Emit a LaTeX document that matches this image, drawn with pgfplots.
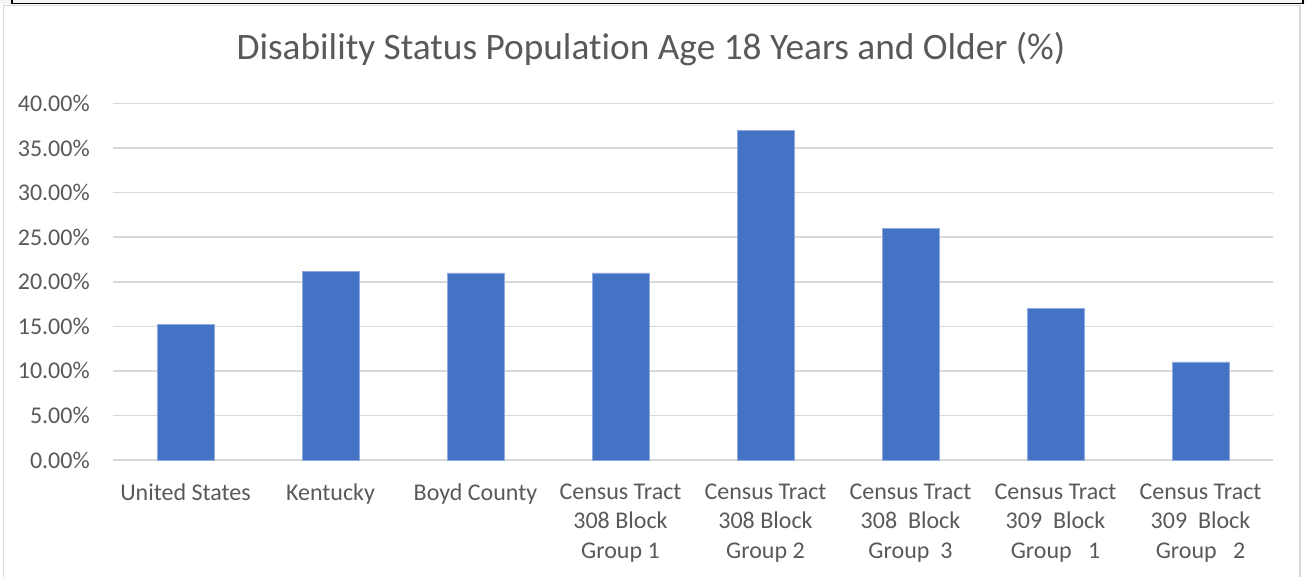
\documentclass[border=0pt]{standalone}
\usepackage{pgfplots}
\pgfplotsset{compat=1.18}
\usepackage{fontspec}
\setmainfont{Carlito}[Ligatures=NoCommon]
\definecolor{barblue}{HTML}{4472C4}
\definecolor{baredge}{HTML}{8FAADC}
\definecolor{txtgray}{HTML}{595959}
\definecolor{gridgray}{HTML}{D9D9D9}
\begin{document}
\begin{tikzpicture}[x=0.75pt,y=-0.75pt]
\path[use as bounding box] (0,0) rectangle (1307,576);
% outer frame
\fill[gray!8] (0,0) rectangle (1307,4);
\draw[black, line width=1.4pt] (12,-3) -- (12,3.5) -- (1303,3.5) -- (1303,-3);
\draw[gridgray, line width=1pt] (3.5,590) -- (3.5,5.5) -- (1300,5.5) -- (1300,590);
% title
\node[anchor=base, text=txtgray, inner sep=0pt, font=\fontsize{28}{34}\selectfont]
  at (651,59.5) {Disability Status Population Age 18 Years and Older (\%)};
\coordinate (plotorigin) at (113,460);
\begin{axis}[
  at={(plotorigin)}, anchor=south west,
  scale only axis,
  width=870pt, height=267.4pt,
  ybar, bar width=42.75pt,
  xmin=-0.5, xmax=7.5,
  ymin=0, ymax=40,
  ytick={0,5,...,40},
  xtick=data,
  xticklabels={United States, Kentucky, Boyd County,
    {Census Tract\\308 Block\\Group 1},
    {Census Tract\\308 Block\\Group 2},
    {Census Tract\\308\ \ Block\\Group\ \ 3},
    {Census Tract\\309\ \ Block\\Group\ \ \ 1},
    {Census Tract\\309\ \ Block\\Group\ \ \ 2}},
  yticklabel={\pgfmathprintnumber[fixed,fixed zerofill,precision=2]{\tick}\%},
  /pgf/number format/assume math mode=true,
  major tick length=0pt,
  axis line style={draw=none},
  ymajorgrids,
  grid style={gridgray, line width=1.2pt},
  tick label style={text=txtgray, font=\fontsize{18}{22.1}\selectfont},
  yticklabel style={anchor=east, inner sep=0pt, xshift=-17.25pt},
  xticklabel style={anchor=north, inner sep=0pt, align=center, yshift=-17.5pt},
]
\addplot[fill=barblue, draw=baredge, line width=0.5pt]
  coordinates {(0,15.2) (1,21.2) (2,21.0) (3,21.0) (4,37.0) (5,26.0) (6,17.0) (7,11.0)};
\end{axis}
\end{tikzpicture}
\end{document}
